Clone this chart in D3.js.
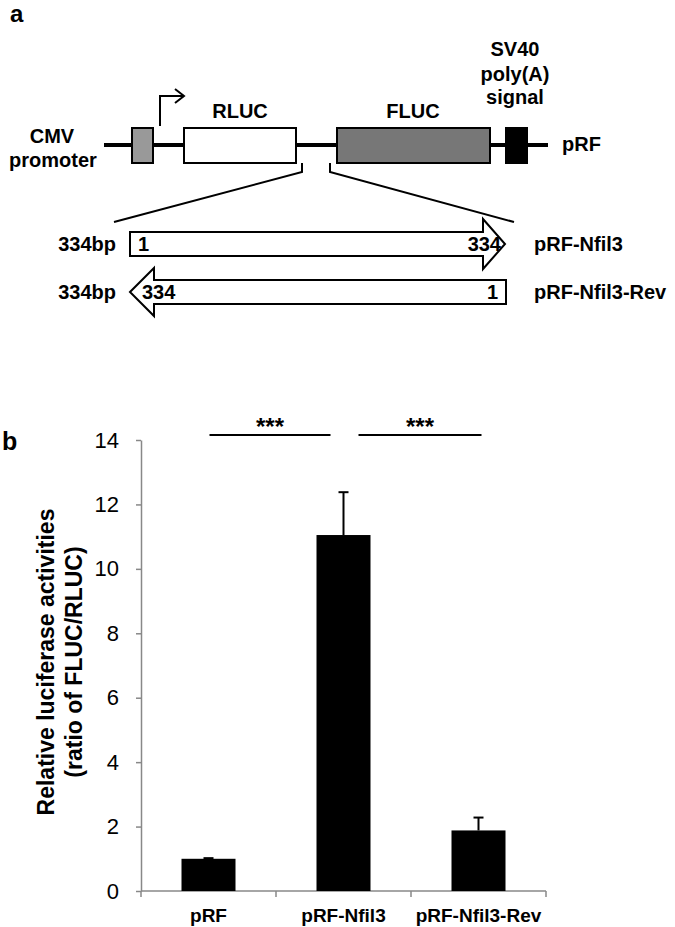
<!DOCTYPE html>
<html>
<head>
<meta charset="utf-8">
<script src="https://cdn.jsdelivr.net/npm/d3@7"></script>
<style>
  body { margin: 0; background: #fff; }
  text { font-family: "Liberation Sans", Arial, sans-serif; }
</style>
</head>
<body>
<div id="fig"></div>
<script>
// chart values (panel b)
const categories = ["pRF", "pRF-Nfil3", "pRF-Nfil3-Rev"];
const means = [1.0, 11.05, 1.88];
const errors = [0.02, 1.33, 0.40];
const yTicks = [0, 2, 4, 6, 8, 10, 12, 14];
const sigPairs = [["pRF", "pRF-Nfil3"], ["pRF-Nfil3", "pRF-Nfil3-Rev"]];
const sigLabels = ["***", "***"];

// construct labels (panel a)
const constructs = ["pRF-Nfil3", "pRF-Nfil3-Rev"];
const insertLen = 334;

const W = 675, H = 927;
const svg = d3.select("#fig").append("svg")
    .attr("width", W).attr("height", H);

svg.append("rect").attr("width", W).attr("height", H).attr("fill", "#fff");

// ---------- panel a : schematic ----------
const a = svg.append("g");
a.append("text").attr("x", 10).attr("y", 22)
    .attr("font-size", 24).attr("font-weight", "bold").text("a");

// backbone
a.append("line").attr("x1", 104).attr("x2", 548).attr("y1", 145).attr("y2", 145)
    .attr("stroke", "#000").attr("stroke-width", 4);

const boxes = [
    {x0: 132, x1: 153, fill: "#999"},
    {x0: 184, x1: 296, fill: "#fff"},
    {x0: 337, x1: 490, fill: "#777"},
    {x0: 506, x1: 527, fill: "#000"}
];
a.selectAll("rect.box").data(boxes).enter().append("rect")
    .attr("class", "box")
    .attr("x", d => d.x0).attr("width", d => d.x1 - d.x0)
    .attr("y", 128).attr("height", 35)
    .attr("fill", d => d.fill).attr("stroke", "#000").attr("stroke-width", 2);

// transcription start arrow
a.append("path").attr("d", "M160,126 V96 H183 M175,89 L184,96 L175,103")
    .attr("fill", "none").attr("stroke", "#000").attr("stroke-width", 2);

const lab = (x, y, t, anchor) => a.append("text").attr("x", x).attr("y", y)
    .attr("text-anchor", anchor || "middle").attr("font-size", 20)
    .attr("font-weight", "bold").text(t);

lab(52, 143, "CMV");
lab(53, 167, "promoter");
lab(240, 118, "RLUC");
lab(413, 118, "FLUC");
lab(515, 56, "SV40");
lab(515, 81, "poly(A)");
lab(515, 104, "signal");
lab(562, 151, "pRF", "start");

// expansion lines
a.append("path").attr("d", "M302,163 V172 L114,222 M330,163 V172 L514,222")
    .attr("fill", "none").attr("stroke", "#000").attr("stroke-width", 2);

// insert arrows
const px = d3.scaleLinear().domain([1, insertLen]).range([130, 505]);
const fwd = [[px(1), 232], [483, 232], [483, 219], [px(insertLen), 244], [483, 269], [483, 256], [px(1), 256]];
const rev = [[px(1), 292], [154, 268], [154, 280], [px(insertLen) + 1, 280], [px(insertLen) + 1, 304], [154, 304], [154, 316]];
a.append("polygon").attr("points", fwd.map(p => p.join(",")).join(" "))
    .attr("fill", "#fff").attr("stroke", "#000").attr("stroke-width", 2);
a.append("polygon").attr("points", rev.map(p => p.join(",")).join(" "))
    .attr("fill", "#fff").attr("stroke", "#000").attr("stroke-width", 2);

lab(116, 251, insertLen + "bp", "end");
lab(116, 299, insertLen + "bp", "end");
lab(138, 251, "1", "start");
lab(501, 251, String(insertLen), "end");
lab(142, 299, String(insertLen), "start");
lab(498, 299, "1", "end");
lab(534, 251, constructs[0], "start");
lab(534, 299, constructs[1], "start");

// ---------- panel b : bar chart ----------
const x0 = 141, x1 = 546, yTop = 440, yBot = 891;
const x = d3.scaleBand().domain(categories).range([x0, x1]).paddingInner(0.6).paddingOuter(0.3);
const xb = d3.scaleBand().domain(categories).range([x0, x1]);
const y = d3.scaleLinear().domain([0, 14]).range([yBot, yTop]);

svg.append("text").attr("x", 2).attr("y", 450)
    .attr("font-size", 25).attr("font-weight", "bold").text("b");

// y axis
const yAxis = svg.append("g").attr("transform", `translate(${x0},0)`)
    .call(d3.axisLeft(y).tickValues(yTicks).tickSize(5).tickPadding(17).tickSizeOuter(0));
yAxis.select(".domain").attr("stroke", "#888").attr("stroke-width", 1.5);
yAxis.selectAll(".tick line").attr("stroke", "#888").attr("stroke-width", 1.5);
yAxis.selectAll(".tick text").attr("font-size", 22).attr("fill", "#000")
    .attr("font-family", "'Liberation Sans', Arial, sans-serif");

// x axis line with ticks at category boundaries
const xAxisG = svg.append("g");
xAxisG.append("line").attr("x1", x0).attr("x2", x1).attr("y1", yBot).attr("y2", yBot)
    .attr("stroke", "#888").attr("stroke-width", 1.5);
const bounds = categories.map(c => xb(c)).concat([x1]);
xAxisG.selectAll("line.tk").data(bounds).enter().append("line")
    .attr("class", "tk")
    .attr("x1", d => d).attr("x2", d => d).attr("y1", yBot).attr("y2", yBot + 6)
    .attr("stroke", "#888").attr("stroke-width", 1.5);
xAxisG.selectAll("text").data(categories).enter().append("text")
    .attr("x", d => xb(d) + xb.bandwidth() / 2).attr("y", 922)
    .attr("text-anchor", "middle").attr("font-size", 19).attr("font-weight", "bold")
    .text(d => d);

// error bars (drawn behind bars)
const rows = categories.map((c, i) => ({c, m: means[i], e: errors[i]}));
const cx = d => x(d.c) + x.bandwidth() / 2;
svg.selectAll("line.err").data(rows).enter().append("line")
    .attr("class", "err")
    .attr("x1", cx).attr("x2", cx)
    .attr("y1", d => y(d.m)).attr("y2", d => y(d.m + d.e))
    .attr("stroke", "#000").attr("stroke-width", 2);
svg.selectAll("line.cap").data(rows).enter().append("line")
    .attr("class", "cap")
    .attr("x1", d => cx(d) - 5).attr("x2", d => cx(d) + 5)
    .attr("y1", d => y(d.m + d.e)).attr("y2", d => y(d.m + d.e))
    .attr("stroke", "#000").attr("stroke-width", 2);

svg.selectAll("rect.bar").data(rows).enter().append("rect")
    .attr("class", "bar")
    .attr("x", d => x(d.c)).attr("width", x.bandwidth())
    .attr("y", d => y(d.m)).attr("height", d => yBot - y(d.m))
    .attr("fill", "#000");

// significance lines
const mid = c => xb(c) + xb.bandwidth() / 2;
sigPairs.forEach((p, i) => {
    const xa = i === 0 ? mid(p[0]) + 1 : mid(p[0]) + 15;
    const xz = i === 0 ? mid(p[1]) - 13 : mid(p[1]) + 3;
    svg.append("line").attr("x1", xa).attr("x2", xz).attr("y1", 435).attr("y2", 435)
        .attr("stroke", "#000").attr("stroke-width", 2);
    svg.append("text").attr("x", (xa + xz) / 2).attr("y", 435)
        .attr("text-anchor", "middle").attr("font-size", 24).attr("font-weight", "bold")
        .text(sigLabels[i]);
});

// y title
const yt = svg.append("text").attr("transform", "translate(54,662) rotate(-90)")
    .attr("text-anchor", "middle").attr("font-size", 23).attr("font-weight", "bold");
yt.append("tspan").attr("x", 0).attr("y", 0).text("Relative luciferase activities");
yt.append("tspan").attr("x", 0).attr("y", 28).text("(ratio of FLUC/RLUC)");
</script>
</body>
</html>
